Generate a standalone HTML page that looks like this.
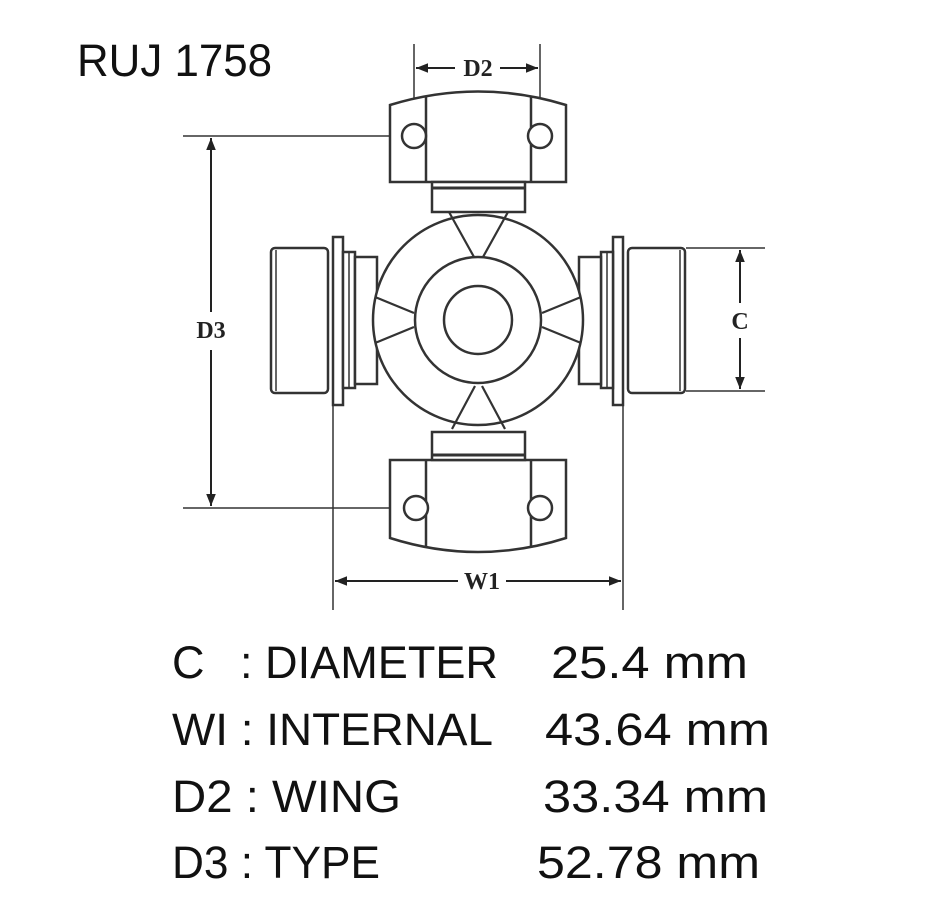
<!DOCTYPE html>
<html><head><meta charset="utf-8"><style>
html,body{margin:0;padding:0;background:#fff;}
svg{display:block;}
.t{font-family:"Liberation Sans",sans-serif;font-size:45px;fill:#111;}
.d{font-family:"Liberation Serif",serif;font-size:24px;font-weight:bold;fill:#222;}
</style></head><body>
<svg width="932" height="919" viewBox="0 0 932 919" xmlns="http://www.w3.org/2000/svg">
<defs>
<marker id="a" viewBox="0 0 10 10" refX="10" refY="5" markerWidth="12" markerHeight="12" markerUnits="userSpaceOnUse" orient="auto-start-reverse"><path d="M0,1 L10,5 L0,9 Z" fill="#222"/></marker>
</defs>
<text class="t" x="77" y="76" textLength="195" lengthAdjust="spacingAndGlyphs">RUJ 1758</text>

<g fill="none" stroke="#333" stroke-width="1.5">
<!-- extension lines -->
<line x1="414" y1="44" x2="414" y2="136"/>
<line x1="540" y1="44" x2="540" y2="136"/>
<line x1="183" y1="136" x2="414" y2="136"/>
<line x1="183" y1="508" x2="414" y2="508"/>
<line x1="333" y1="405" x2="333" y2="610"/>
<line x1="623" y1="405" x2="623" y2="610"/>
<line x1="686" y1="248" x2="765" y2="248"/>
<line x1="686" y1="391" x2="765" y2="391"/>
</g>
<g stroke="#222" stroke-width="2" fill="none">
<line x1="416" y1="68" x2="455" y2="68" marker-start="url(#a)"/>
<line x1="500" y1="68" x2="538" y2="68" marker-end="url(#a)"/>
<line x1="211" y1="138" x2="211" y2="312" marker-start="url(#a)"/>
<line x1="211" y1="350" x2="211" y2="506" marker-end="url(#a)"/>
<line x1="335" y1="581" x2="458" y2="581" marker-start="url(#a)"/>
<line x1="506" y1="581" x2="621" y2="581" marker-end="url(#a)"/>
<line x1="740" y1="250" x2="740" y2="303" marker-start="url(#a)"/>
<line x1="740" y1="338" x2="740" y2="389" marker-end="url(#a)"/>
</g>
<text class="d" x="478" y="76" text-anchor="middle">D2</text>
<text class="d" x="211" y="338" text-anchor="middle">D3</text>
<text class="d" x="740" y="329" text-anchor="middle">C</text>
<text class="d" x="482" y="589" text-anchor="middle">W1</text>

<g fill="#fff" stroke="#333" stroke-width="2.5">
<!-- top wing -->
<path d="M390,105 Q478,78 566,105 L566,182 L390,182 Z"/>
<line x1="426" y1="97" x2="426" y2="182"/>
<line x1="531" y1="97" x2="531" y2="182"/>
<circle cx="414" cy="136" r="12"/>
<circle cx="540" cy="136" r="12"/>
<rect x="432" y="182" width="93" height="30"/>
<line x1="432" y1="188" x2="525" y2="188" stroke-width="3"/>
<!-- bottom wing -->
<path d="M390,460 L566,460 L566,538 Q478,566 390,538 Z"/>
<line x1="426" y1="460" x2="426" y2="548"/>
<line x1="531" y1="460" x2="531" y2="548"/>
<circle cx="416" cy="508" r="12"/>
<circle cx="540" cy="508" r="12"/>
<rect x="432" y="432" width="93" height="28"/>
<line x1="432" y1="455" x2="525" y2="455" stroke-width="3"/>
<!-- left trunnion -->
<rect x="271" y="248" width="57" height="145" rx="4"/>
<line x1="276" y1="250" x2="276" y2="391" stroke-width="1.5"/>
<rect x="333" y="237" width="10" height="168"/>
<rect x="343" y="252" width="12" height="136"/>
<line x1="349" y1="252" x2="349" y2="388" stroke-width="1.5"/>
<rect x="355" y="257" width="22" height="127"/>
<!-- right trunnion -->
<rect x="628" y="248" width="57" height="145" rx="4"/>
<line x1="680" y1="250" x2="680" y2="391" stroke-width="1.5"/>
<rect x="613" y="237" width="10" height="168"/>
<rect x="601" y="252" width="12" height="136"/>
<line x1="607" y1="252" x2="607" y2="388" stroke-width="1.5"/>
<rect x="579" y="257" width="22" height="127"/>
<!-- body -->
<circle cx="478" cy="320" r="105"/>
<circle cx="478" cy="320" r="63"/>
<circle cx="478" cy="320" r="34"/>
</g>
<g fill="none" stroke="#333" stroke-width="2.2">
<path d="M449,212 L474,257 M508,212 L483,257"/>
<path d="M452,429 L475,386 M505,429 L482,386"/>
<path d="M375,297 L414,313 M375,343 L414,327"/>
<path d="M581,297 L542,313 M581,343 L542,327"/>
</g>

<text class="t" x="172" y="678">C</text>
<text class="t" x="240" y="678" textLength="258" lengthAdjust="spacingAndGlyphs">: DIAMETER</text>
<text class="t" x="551" y="678" textLength="197" lengthAdjust="spacingAndGlyphs">25.4 mm</text>
<text class="t" x="172" y="745" textLength="321" lengthAdjust="spacingAndGlyphs">WI : INTERNAL</text>
<text class="t" x="545" y="745" textLength="225" lengthAdjust="spacingAndGlyphs">43.64 mm</text>
<text class="t" x="172" y="812" textLength="229" lengthAdjust="spacingAndGlyphs">D2 : WING</text>
<text class="t" x="543" y="812" textLength="225" lengthAdjust="spacingAndGlyphs">33.34 mm</text>
<text class="t" x="172" y="878" textLength="208" lengthAdjust="spacingAndGlyphs">D3 : TYPE</text>
<text class="t" x="537" y="878" textLength="223" lengthAdjust="spacingAndGlyphs">52.78 mm</text>
</svg>
</body></html>
